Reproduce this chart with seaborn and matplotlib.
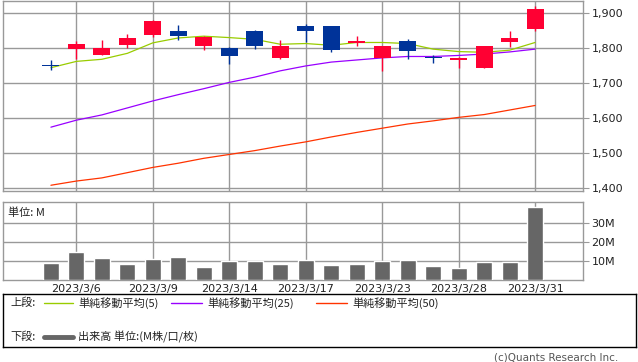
import numpy as np
import pandas as pd
import seaborn as sns
import matplotlib
matplotlib.use("Agg")
import matplotlib.pyplot as plt
from matplotlib.lines import Line2D

# ---- data ----
dates = ["2023/3/3", "2023/3/6", "2023/3/7", "2023/3/8", "2023/3/9", "2023/3/10",
         "2023/3/13", "2023/3/14", "2023/3/15", "2023/3/16", "2023/3/17", "2023/3/20",
         "2023/3/22", "2023/3/23", "2023/3/24", "2023/3/27", "2023/3/28", "2023/3/29",
         "2023/3/30", "2023/3/31"]
open_ = [1754, 1799, 1782, 1810, 1839, 1849, 1807, 1802, 1849, 1773, 1864, 1864,
         1816, 1774, 1821, 1776, 1767, 1745, 1818, 1855]
high = [1766, 1821, 1824, 1841, 1881, 1867, 1835, 1803, 1852, 1824, 1869, 1864,
        1835, 1807, 1827, 1781, 1776, 1807, 1849, 1921]
low = [1738, 1769, 1782, 1802, 1833, 1824, 1795, 1756, 1799, 1769, 1817, 1790,
       1807, 1736, 1769, 1759, 1744, 1745, 1804, 1850]
close = [1751, 1812, 1800, 1829, 1878, 1836, 1833, 1779, 1807, 1807, 1850, 1796,
         1821, 1807, 1792, 1772, 1772, 1807, 1829, 1912]
ma5 = [1745, 1763, 1769, 1786, 1816, 1830, 1835, 1831, 1826, 1812, 1814, 1809,
       1817, 1817, 1814, 1798, 1791, 1789, 1795, 1817]
ma25 = [1575, 1595, 1610, 1630, 1650, 1668, 1685, 1703, 1718, 1736, 1750, 1761,
        1767, 1773, 1777, 1777, 1780, 1784, 1790, 1798]
ma50 = [1409, 1421, 1430, 1445, 1460, 1472, 1486, 1497, 1508, 1521, 1533, 1547,
        1560, 1572, 1584, 1593, 1603, 1611, 1624, 1637]
volume = [9.1, 14.9, 11.7, 8.6, 11.2, 12.3, 7.0, 10.2, 10.2, 8.6, 10.7, 8.1,
          8.6, 10.2, 10.7, 7.5, 6.5, 9.6, 9.6, 38.6]
price_ticks = [1400, 1500, 1600, 1700, 1800, 1900]
price_labels = ["1,400", "1,500", "1,600", "1,700", "1,800", "1,900"]
vol_ticks = [10, 20, 30]
vol_labels = ["10M", "20M", "30M"]
label_idx = [1, 4, 7, 10, 13, 16, 19]

# ---- style ----
sns.set_theme(style="white")
plt.rcParams['font.family'] = ['DejaVu Sans', 'Noto Sans CJK JP']
JP = ['Noto Sans CJK JP', 'DejaVu Sans']

RED = "#ff0033"
BLUE = "#003399"
C5 = "#99cc00"
C25 = "#9900ff"
C50 = "#ff3300"
GRID = "#999999"
VOLC = "#666666"

W, H = 638, 362
fig = plt.figure(figsize=(W / 100, H / 100), dpi=100)

def fax(l, t, r, b):
    return fig.add_axes([l / W, 1 - b / H, (r - l) / W, (b - t) / H])

n = len(dates)
idx = np.arange(n)
df = pd.DataFrame({"i": idx, "open": open_, "high": high, "low": low, "close": close,
                   "ma5": ma5, "ma25": ma25, "ma50": ma50, "vol": volume})
xlim = (-1.88, 20.88)

# ---- price panel ----
ax = fax(3, 0.5, 583, 190.5)
ax.set_xlim(*xlim)
ax.set_ylim(1394, 1937)
for y in price_ticks:
    ax.axhline(y, color=GRID, lw=1.0, zorder=0)
for i in label_idx:
    ax.axvline(i, color=GRID, lw=1.0, zorder=0)

sns.lineplot(data=df, x="i", y="ma50", ax=ax, color=C50, lw=0.9, zorder=2)
sns.lineplot(data=df, x="i", y="ma25", ax=ax, color=C25, lw=0.9, zorder=2)
sns.lineplot(data=df, x="i", y="ma5", ax=ax, color=C5, lw=0.9, zorder=2)

for r in df.itertuples():
    col = RED if r.close >= r.open else BLUE
    ax.vlines(r.i, r.low, r.high, color=col, lw=1.0, zorder=3)
    bot = min(r.open, r.close)
    h = max(abs(r.close - r.open), 2.5)
    ax.bar(r.i, h, bottom=bot, width=0.66, color=col, lw=0, zorder=4)

ax.yaxis.tick_right()
ax.set_yticks(price_ticks)
ax.set_yticklabels(price_labels, fontsize=8, color="#222222")
ax.set_xticks([])
ax.tick_params(axis="y", length=4, width=0.8, color=GRID, pad=2, right=True, left=False)
ax.set_xlabel("")
ax.set_ylabel("")
for s in ax.spines.values():
    s.set_color(GRID)
    s.set_linewidth(1.0)

# ---- volume panel ----
axv = fax(3, 201.7, 583, 280.3)
sns.barplot(data=df, x="i", y="vol", ax=axv, color=VOLC, width=0.62,
            saturation=1, zorder=3)
axv.set_xlim(*xlim)
axv.set_ylim(0, 41.4)
for y in vol_ticks:
    axv.axhline(y, color=GRID, lw=1.0, zorder=0)
for i in label_idx:
    axv.axvline(i, color=GRID, lw=1.0, zorder=0)
axv.yaxis.tick_right()
axv.set_yticks(vol_ticks)
axv.set_yticklabels(vol_labels, fontsize=8, color="#222222")
axv.set_xticks(label_idx)
axv.set_xticklabels([dates[i] for i in label_idx], fontsize=8, color="#222222")
axv.tick_params(axis="x", length=0, pad=3)
axv.tick_params(axis="y", length=4, width=0.8, color=GRID, pad=2, right=True, left=False)
axv.set_xlabel("")
axv.set_ylabel("")
for s in axv.spines.values():
    s.set_color(GRID)
    s.set_linewidth(1.0)
axv.text(5 / 580, 0.93, "単位: M", transform=axv.transAxes, fontsize=8,
         family=JP, va="top", ha="left", color="#222222")

# ---- legend box ----
axl = fax(3, 294, 636, 347)
axl.set_xlim(0, 633)
axl.set_ylim(53, 0)
axl.set_xticks([])
axl.set_yticks([])
for s in axl.spines.values():
    s.set_color("#000000")
    s.set_linewidth(1.0)
y1, y2 = 9, 43
axl.text(7, y1, "上段:", fontsize=8, family=JP, va="center", color="#222222")
axl.add_line(Line2D([41, 70], [y1, y1], color=C5, lw=1.0))
axl.text(75, y1, "単純移動平均(5)", fontsize=8, family=JP, va="center", color="#222222")
axl.add_line(Line2D([168, 199], [y1, y1], color=C25, lw=1.0))
axl.text(204, y1, "単純移動平均(25)", fontsize=8, family=JP, va="center", color="#222222")
axl.add_line(Line2D([313, 344], [y1, y1], color=C50, lw=1.0))
axl.text(349, y1, "単純移動平均(50)", fontsize=8, family=JP, va="center", color="#222222")
axl.text(7, y2, "下段:", fontsize=8, family=JP, va="center", color="#222222")
axl.add_line(Line2D([41, 70], [y2, y2], color=VOLC, lw=3.5))
axl.text(75, y2, "出来高 単位:(M株/口/枚)", fontsize=8, family=JP, va="center", color="#222222")

fig.text(618 / W, 1 - 357 / H, "(c)Quants Research Inc.", fontsize=7.5,
         ha="right", va="center", color="#555555")

fig.savefig("out.png", dpi=100)
